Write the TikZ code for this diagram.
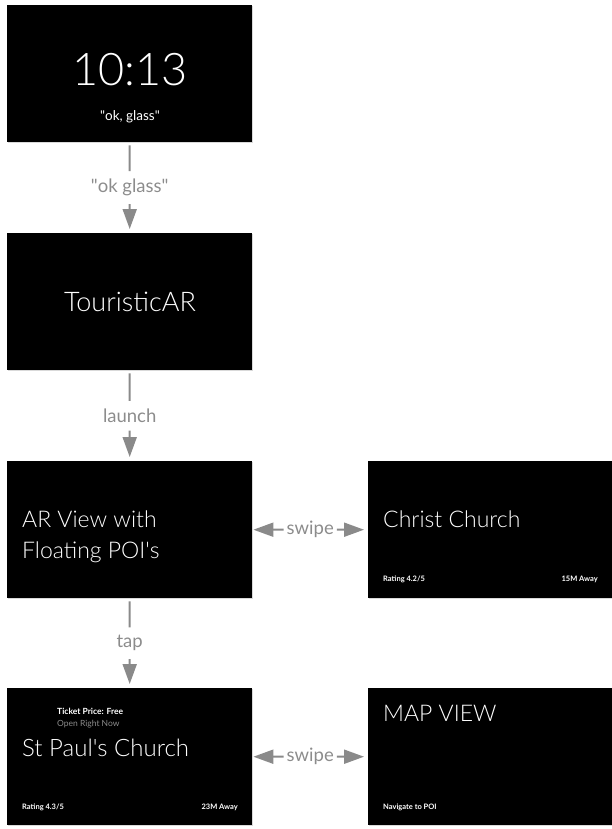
\documentclass[tikz,border=0pt]{standalone}
\usepackage{fontspec}
\setmainfont{Lato}
\newfontfamily\lightfont{Lato Light}
\usetikzlibrary{arrows.meta,shadows,calc}
\definecolor{linegray}{HTML}{8A8A8A}
\definecolor{labelgray}{HTML}{8C8C8C}
\tikzset{
  screen/.style={fill=black, minimum width=245pt, minimum height=137pt, inner sep=0pt, anchor=north west,
    drop shadow={opacity=0.3, shadow xshift=0.8pt, shadow yshift=-1.2pt}},
  act/.style={text=labelgray, font=\fontsize{18.5}{18.5}\selectfont, inner xsep=3pt, inner ysep=8pt, outer sep=0pt},
  link/.style={draw=linegray, line width=2pt},
  go/.style={link, -{Triangle[length=20pt,width=14pt]}},
  big/.style={text=white, font=\lightfont\fontsize{23}{23}\selectfont, inner sep=0pt},
  tiny/.style={text=white, font=\bfseries\fontsize{7.5}{7.5}\selectfont, inner sep=0pt}
}
\begin{document}
\begin{tikzpicture}[x=1pt,y=-1pt]
\useasboundingbox (0,0) rectangle (611,829);

  %% schermate
  \node[screen] (clock) at (7,5) {};
  \node[screen] (tour) at (7,233) {};
  \node[screen] (arview) at (7,461) {};
  \node[screen] (christ) at (368,461) {};
  \node[screen] (paul) at (7,688) {};
  \node[screen] (map) at (368,688) {};

  %% orologio
  \node[big, font=\lightfont\fontsize{45}{45}\selectfont, anchor=base] (time) at (130,86) {10:13};
  \node[text=white, font=\fontsize{13.5}{13.5}\selectfont, inner sep=0pt, anchor=base] (okg) at (130,121) {\textquotedbl ok, glass\textquotedbl};

  %% app
  \node[big, font=\lightfont\fontsize{27}{27}\selectfont, anchor=base] (appname) at (130,311) {TouristicAR};

  %% vista AR
  \node[big, anchor=base west] (arline1) at (22,527) {AR View with};
  \node[big, anchor=base west] (arline2) at (22,558) {Floating POI's};

  \node[big, anchor=base west] (cctitle) at (383,527) {Christ Church};
  \node[tiny, anchor=base west] (ccrate) at (383,581) {Rating 4.2/5};
  \node[tiny, anchor=base east] (ccdist) at (598,581) {15M Away};

  %% dettaglio POI
  \node[tiny, font=\bfseries\fontsize{8.5}{8.5}\selectfont, anchor=base west] (ticket) at (57,714) {Ticket Price: Free};
  \node[tiny, text=labelgray, font=\fontsize{8.5}{8.5}\selectfont, anchor=base west] (open) at (57,726) {Open Right Now};
  \node[big, font=\lightfont\fontsize{24}{24}\selectfont, anchor=base west] (sptitle) at (22,756) {St Paul's Church};
  \node[tiny, anchor=base west] (sprate) at (22,809) {Rating 4.3/5};
  \node[tiny, anchor=base east] (spdist) at (238,809) {23M Away};

  \node[big, anchor=base west] (maptitle) at (383,721) {MAP VIEW};
  \node[tiny, anchor=base west] (nav) at (383,809) {Navigate to POI};

  %% transizioni
  \node[act] (say) at ($(clock.south)!0.5!(tour.north)$) {\textquotedbl ok glass\textquotedbl};
  \node[act] (launch) at ($(tour.south)!0.5!(arview.north)$) {launch};
  \node[act] (tap) at ($(arview.south)!0.5!(paul.north)$) {tap};
  \node[act] (swipeA) at ($(arview.east)!0.5!(christ.west)$) {swipe};
  \node[act] (swipeB) at ($(paul.east)!0.5!(map.west)$) {swipe};

  \foreach \a/\b/\c in {clock/say/tour, tour/launch/arview, arview/tap/paul}{
    \draw[link, shorten <=3pt] (\a) -- (\b);
    \draw[go, shorten >=4pt] (\b) -- (\c);
  }
  \foreach \a/\b/\c in {arview/swipeA/christ, paul/swipeB/map}{
    \draw[go, shorten >=1pt] (\b) -- (\a);
    \draw[go, shorten >=4pt] (\b) -- (\c);
  }
\end{tikzpicture}
\end{document}
